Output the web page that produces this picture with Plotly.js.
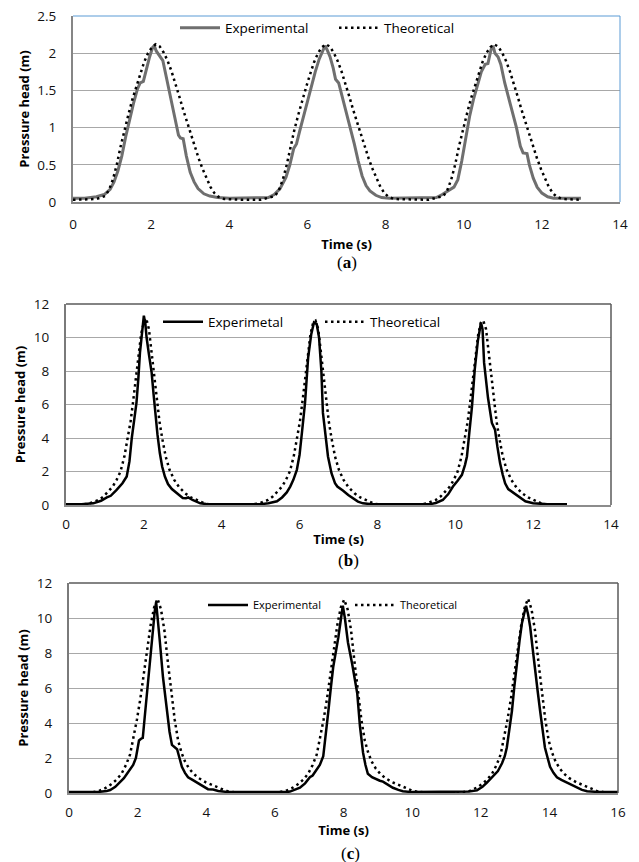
<!DOCTYPE html>
<html>
<head>
<meta charset="utf-8">
<script src="https://cdn.plot.ly/plotly-3.0.1.min.js"></script>
<style>html,body{margin:0;padding:0;background:#fff;}#chart{width:639px;height:862px;}</style>
</head>
<body>
<div id="chart"></div>
<script>
// ---------- DATA (time s, pressure head m) ----------
const seriesNamesA = ['Experimental', 'Theoretical'];
const seriesNamesB = ['Experimetal', 'Theoretical'];
const seriesNamesC = ['Experimental', 'Theoretical'];
const panelLabels = ['(<b>a</b>)', '(<b>b</b>)', '(<b>c</b>)'];

const expA = [[0,0.05],[0.3,0.05],[0.6,0.07],[0.8,0.1],[0.95,0.17],[1.05,0.27],[1.15,0.42],[1.25,0.62],[1.35,0.88],[1.45,1.12],[1.55,1.33],[1.65,1.52],[1.72,1.6],[1.8,1.62],[1.88,1.8],[1.96,1.95],[2.04,2.08],[2.08,2.1],[2.13,2.03],[2.2,1.97],[2.3,1.9],[2.4,1.65],[2.5,1.38],[2.6,1.15],[2.7,0.9],[2.75,0.86],[2.82,0.85],[2.9,0.62],[3.0,0.4],[3.1,0.27],[3.2,0.18],[3.35,0.11],[3.5,0.08],[3.7,0.06],[4.0,0.05],[4.4,0.05],[4.8,0.05],[5.0,0.06],[5.15,0.1],[5.3,0.18],[5.45,0.33],[5.55,0.5],[5.65,0.72],[5.72,0.78],[5.8,0.95],[5.9,1.15],[6.0,1.38],[6.1,1.55],[6.2,1.75],[6.3,1.92],[6.38,2.02],[6.45,2.1],[6.5,2.05],[6.58,1.95],[6.66,1.8],[6.72,1.65],[6.8,1.6],[6.9,1.4],[7.0,1.2],[7.1,1.0],[7.2,0.78],[7.3,0.55],[7.4,0.35],[7.5,0.22],[7.6,0.15],[7.75,0.09],[7.9,0.06],[8.1,0.05],[8.5,0.05],[9.0,0.05],[9.3,0.06],[9.45,0.1],[9.6,0.15],[9.75,0.2],[9.85,0.3],[9.95,0.55],[10.05,0.85],[10.15,1.15],[10.25,1.38],[10.35,1.55],[10.45,1.75],[10.55,1.85],[10.62,1.86],[10.7,2.05],[10.75,2.1],[10.8,2.0],[10.88,1.95],[10.95,1.85],[11.05,1.6],[11.15,1.4],[11.25,1.2],[11.35,1.0],[11.45,0.75],[11.52,0.66],[11.62,0.65],[11.68,0.5],[11.78,0.32],[11.88,0.2],[12.0,0.12],[12.15,0.07],[12.3,0.05],[12.5,0.05],[12.8,0.05],[13.0,0.05]];

const theoA = [[0,0.03],[0.3,0.03],[0.6,0.04],[0.82,0.08],[0.92,0.16],[1.02,0.3],[1.12,0.5],[1.22,0.75],[1.32,0.98],[1.42,1.18],[1.52,1.38],[1.62,1.55],[1.72,1.72],[1.82,1.88],[1.92,2.0],[2.02,2.08],[2.12,2.12],[2.22,2.09],[2.32,2.01],[2.42,1.9],[2.52,1.76],[2.62,1.6],[2.72,1.42],[2.82,1.24],[2.92,1.07],[3.02,0.9],[3.12,0.74],[3.22,0.58],[3.32,0.44],[3.42,0.31],[3.52,0.2],[3.62,0.12],[3.72,0.07],[3.87,0.04],[4.3,0.03],[4.8,0.03],
[5.17,0.08],[5.27,0.16],[5.37,0.3],[5.47,0.5],[5.57,0.75],[5.67,0.98],[5.77,1.18],[5.87,1.38],[5.97,1.55],[6.07,1.72],[6.17,1.88],[6.27,2.0],[6.37,2.08],[6.47,2.12],[6.57,2.09],[6.67,2.01],[6.77,1.9],[6.87,1.76],[6.97,1.6],[7.07,1.42],[7.17,1.24],[7.27,1.07],[7.37,0.9],[7.47,0.74],[7.57,0.58],[7.67,0.44],[7.77,0.31],[7.87,0.2],[7.97,0.12],[8.07,0.07],[8.22,0.04],[8.7,0.03],[9.1,0.03],
[9.48,0.08],[9.58,0.16],[9.68,0.3],[9.78,0.5],[9.88,0.75],[9.98,0.98],[10.08,1.18],[10.18,1.38],[10.28,1.55],[10.38,1.72],[10.48,1.88],[10.58,2.0],[10.68,2.08],[10.78,2.12],[10.88,2.09],[10.98,2.01],[11.08,1.9],[11.18,1.76],[11.28,1.6],[11.38,1.42],[11.48,1.24],[11.58,1.07],[11.68,0.9],[11.78,0.74],[11.88,0.58],[11.98,0.44],[12.08,0.31],[12.18,0.2],[12.28,0.12],[12.38,0.07],[12.53,0.04],[13.0,0.03]];

const expB = [[0,0.05],[0.4,0.05],[0.7,0.1],[0.9,0.25],[1.05,0.45],[1.15,0.55],[1.3,0.9],[1.45,1.3],[1.56,1.7],[1.63,2.6],[1.69,4.0],[1.75,5.0],[1.81,6.1],[1.86,7.6],[1.9,9.1],[1.95,10.2],[2.0,11.3],[2.04,10.8],[2.07,10.0],[2.13,9.0],[2.2,7.9],[2.25,6.6],[2.29,5.5],[2.35,4.2],[2.41,3.1],[2.47,2.3],[2.54,1.7],[2.62,1.25],[2.72,0.95],[2.85,0.7],[3.0,0.42],[3.08,0.4],[3.14,0.45],[3.25,0.3],[3.35,0.18],[3.45,0.1],[3.6,0.06],[4.0,0.05],[4.5,0.05],[5.0,0.05],[5.2,0.1],[5.3,0.15],[5.42,0.22],[5.55,0.45],[5.67,0.75],[5.76,1.1],[5.84,1.5],[5.93,2.1],[6.0,3.0],[6.06,4.3],[6.14,6.1],[6.22,8.8],[6.3,10.2],[6.37,10.9],[6.44,10.8],[6.5,10.0],[6.56,8.0],[6.6,5.5],[6.66,4.2],[6.73,2.9],[6.82,1.9],[6.91,1.3],[6.97,1.1],[7.04,1.0],[7.12,0.85],[7.25,0.6],[7.37,0.4],[7.5,0.2],[7.63,0.1],[7.8,0.06],[8.2,0.05],[9.0,0.05],[9.35,0.05],[9.5,0.12],[9.68,0.3],[9.82,0.65],[9.94,1.1],[10.06,1.45],[10.17,1.8],[10.25,2.4],[10.3,2.9],[10.36,4.3],[10.43,5.9],[10.5,8.1],[10.58,9.8],[10.66,10.9],[10.7,10.5],[10.74,8.5],[10.84,6.4],[10.94,4.9],[11.02,4.5],[11.08,3.5],[11.15,2.5],[11.22,1.8],[11.28,1.3],[11.36,0.95],[11.45,0.8],[11.55,0.6],[11.66,0.4],[11.8,0.22],[12.0,0.1],[12.3,0.06],[12.87,0.05]];

const theoB = [[0,0.03],[0.46,0.04],[0.61,0.1],[0.71,0.18],[0.84,0.3],[0.96,0.5],[1.08,0.8],[1.2,1.1],[1.3,1.5],[1.4,2.0],[1.5,2.9],[1.59,4.0],[1.66,5.0],[1.72,6.1],[1.79,7.6],[1.86,9.1],[1.93,10.2],[2.0,10.9],[2.06,11.15],[2.13,10.5],[2.2,9.1],[2.27,7.5],[2.34,6.1],[2.4,5.0],[2.47,4.0],[2.56,2.9],[2.66,2.1],[2.78,1.5],[2.91,1.05],[3.06,0.7],[3.21,0.45],[3.36,0.28],[3.48,0.15],[3.58,0.07],[3.71,0.04],[4.3,0.03],
[4.81,0.04],[4.96,0.1],[5.06,0.18],[5.19,0.3],[5.31,0.5],[5.43,0.8],[5.55,1.1],[5.65,1.5],[5.75,2.0],[5.85,2.9],[5.94,4.0],[6.01,5.0],[6.07,6.1],[6.14,7.6],[6.21,9.1],[6.28,10.2],[6.35,10.9],[6.41,11.0],[6.48,10.5],[6.55,9.1],[6.62,7.5],[6.69,6.1],[6.75,5.0],[6.82,4.0],[6.91,2.9],[7.01,2.1],[7.13,1.5],[7.26,1.05],[7.41,0.7],[7.56,0.45],[7.71,0.28],[7.83,0.15],[7.93,0.07],[8.06,0.04],[8.7,0.03],
[9.12,0.04],[9.27,0.1],[9.37,0.18],[9.5,0.3],[9.62,0.5],[9.74,0.8],[9.86,1.1],[9.96,1.5],[10.06,2.0],[10.16,2.9],[10.25,4.0],[10.32,5.0],[10.38,6.1],[10.45,7.6],[10.52,9.1],[10.59,10.2],[10.66,10.9],[10.72,11.0],[10.79,10.5],[10.86,9.1],[10.93,7.5],[11.0,6.1],[11.06,5.0],[11.13,4.0],[11.22,2.9],[11.32,2.1],[11.44,1.5],[11.57,1.05],[11.72,0.7],[11.87,0.45],[12.02,0.28],[12.14,0.15],[12.24,0.07],[12.37,0.04]];

const expC = [[0,0.05],[0.5,0.05],[0.9,0.07],[1.1,0.12],[1.2,0.17],[1.35,0.35],[1.49,0.6],[1.6,0.85],[1.69,1.1],[1.78,1.35],[1.87,1.6],[1.95,2.0],[1.99,2.4],[2.04,3.0],[2.1,3.1],[2.15,3.15],[2.2,4.2],[2.27,5.7],[2.36,7.6],[2.45,9.5],[2.5,10.4],[2.54,10.9],[2.58,10.2],[2.65,8.6],[2.74,6.6],[2.86,4.7],[2.93,3.5],[3.0,2.75],[3.08,2.6],[3.15,2.5],[3.22,2.0],[3.29,1.5],[3.38,1.15],[3.47,0.9],[3.6,0.75],[3.72,0.6],[3.82,0.48],[3.91,0.35],[4.05,0.22],[4.2,0.2],[4.35,0.12],[4.6,0.06],[5.0,0.05],[6.0,0.05],[6.3,0.05],[6.44,0.08],[6.6,0.18],[6.73,0.3],[6.88,0.55],[7.02,0.9],[7.1,1.0],[7.2,1.3],[7.31,1.6],[7.41,2.1],[7.48,3.2],[7.56,4.7],[7.63,6.0],[7.7,7.2],[7.85,8.9],[7.92,10.0],[7.98,10.7],[8.04,10.0],[8.13,8.6],[8.25,7.4],[8.4,5.7],[8.48,3.8],[8.57,2.3],[8.64,1.6],[8.71,1.1],[8.83,0.9],[8.97,0.75],[9.06,0.7],[9.15,0.65],[9.3,0.45],[9.44,0.3],[9.6,0.18],[9.73,0.1],[10.0,0.05],[11.0,0.05],[11.4,0.05],[11.65,0.08],[11.89,0.15],[12.05,0.35],[12.18,0.6],[12.3,0.85],[12.42,1.1],[12.5,1.25],[12.62,1.7],[12.7,2.1],[12.76,2.6],[12.84,3.6],[12.91,4.7],[12.98,6.1],[13.06,7.6],[13.13,8.7],[13.2,9.7],[13.32,10.7],[13.38,10.2],[13.44,9.5],[13.51,8.3],[13.58,7.0],[13.66,5.8],[13.73,4.7],[13.8,3.6],[13.87,2.6],[13.95,2.0],[14.02,1.5],[14.12,1.15],[14.22,0.9],[14.35,0.75],[14.51,0.6],[14.65,0.45],[14.81,0.3],[14.95,0.18],[15.1,0.1],[15.4,0.06],[16.0,0.05]];

const theoC = [[0,0.03],[0.4,0.03],[0.68,0.04],[0.88,0.12],[1.08,0.3],[1.23,0.5],[1.38,0.75],[1.53,1.1],[1.66,1.6],[1.78,2.2],[1.88,3.1],[1.98,4.2],[2.08,5.4],[2.18,6.9],[2.28,8.3],[2.38,9.6],[2.48,10.6],[2.58,11.1],[2.68,10.5],[2.78,9.3],[2.88,7.5],[2.98,5.7],[3.08,4.2],[3.18,3.0],[3.28,2.3],[3.38,1.8],[3.5,1.4],[3.63,1.1],[3.78,0.85],[3.98,0.62],[4.18,0.45],[4.38,0.28],[4.58,0.12],[4.78,0.05],[5.5,0.03],
[6.12,0.04],[6.32,0.12],[6.52,0.3],[6.67,0.5],[6.82,0.75],[6.97,1.1],[7.1,1.6],[7.22,2.2],[7.32,3.1],[7.42,4.2],[7.52,5.4],[7.62,6.9],[7.72,8.3],[7.82,9.6],[7.92,10.6],[8.02,11.05],[8.12,10.5],[8.22,9.3],[8.32,7.5],[8.42,5.7],[8.52,4.2],[8.62,3.0],[8.72,2.3],[8.82,1.8],[8.94,1.4],[9.07,1.1],[9.22,0.85],[9.42,0.62],[9.62,0.45],[9.82,0.28],[10.02,0.12],[10.22,0.05],[11.0,0.03],
[11.48,0.04],[11.68,0.12],[11.88,0.3],[12.03,0.5],[12.18,0.75],[12.33,1.1],[12.46,1.6],[12.58,2.2],[12.68,3.1],[12.78,4.2],[12.88,5.4],[12.98,6.9],[13.08,8.3],[13.18,9.6],[13.28,10.6],[13.38,11.1],[13.48,10.5],[13.58,9.3],[13.68,7.5],[13.78,5.7],[13.88,4.2],[13.98,3.0],[14.08,2.3],[14.18,1.8],[14.3,1.4],[14.43,1.1],[14.58,0.85],[14.78,0.62],[14.98,0.45],[15.18,0.28],[15.38,0.12],[15.58,0.05],[16.0,0.03]];

const xTicksAB = [0, 2, 4, 6, 8, 10, 12, 14];
const xTicksC = [0, 2, 4, 6, 8, 10, 12, 14, 16];
const yTicksA = [0, 0.5, 1, 1.5, 2, 2.5];
const yTicksBC = [0, 2, 4, 6, 8, 10, 12];

// ---------- STYLE ----------
const FONT = 'Open Sans, Liberation Sans, sans-serif';
const W = 639, H = 862;
const px = v => v / W, py = v => 1 - v / H;
const dotDash = '2.5px,3.5px';

function tr(data, ax, name, legend, line) {
  return {x: data.map(p => p[0]), y: data.map(p => p[1]), xaxis: ax[0], yaxis: ax[1],
    type: 'scatter', mode: 'lines', name: name, legend: legend, line: line, hoverinfo: 'skip'};
}
const traces = [
  tr(expA, ['x', 'y'], seriesNamesA[0], 'legend', {color: '#6f6f6f', width: 3}),
  tr(theoA, ['x', 'y'], seriesNamesA[1], 'legend2', {color: '#000', width: 2.5, dash: dotDash}),
  tr(expB, ['x2', 'y2'], seriesNamesB[0], 'legend3', {color: '#000', width: 2.5}),
  tr(theoB, ['x2', 'y2'], seriesNamesB[1], 'legend4', {color: '#000', width: 2.5, dash: dotDash}),
  tr(expC, ['x3', 'y3'], seriesNamesC[0], 'legend5', {color: '#000', width: 2.5}),
  tr(theoC, ['x3', 'y3'], seriesNamesC[1], 'legend6', {color: '#000', width: 2.5, dash: dotDash})
];

const tickFont = {family: FONT, size: 13.5, color: '#111'};
const titleFont = {family: FONT, size: 13, color: '#000'};
function xax(dom, anchor, ticks, lineColor, tstand, standoff) {
  return {domain: dom, anchor: anchor, range: [ticks[0], ticks[ticks.length - 1]], tickvals: ticks,
    ticktext: ticks.map(String), showgrid: false, zeroline: false, showline: true, linecolor: lineColor,
    linewidth: 2, ticks: '', tickfont: tickFont, ticklabelstandoff: tstand,
    title: {text: '<b>Time (s)</b>', font: titleFont, standoff: standoff}};
}
function yax(dom, anchor, ticks, lineColor) {
  return {domain: dom, anchor: anchor, range: [ticks[0], ticks[ticks.length - 1]], tickvals: ticks,
    ticktext: ticks.map(String), showgrid: true, gridcolor: '#a8a8a8', gridwidth: 1, zeroline: false,
    showline: true, linecolor: lineColor, linewidth: 2, ticks: '', tickfont: tickFont, ticklabelstandoff: 12,
    title: {text: '<b>Pressure head (m)</b>', font: titleFont, standoff: 5}};
}
function leg(xpix, ypix, size) {
  return {x: px(xpix), y: py(ypix), xanchor: 'left', yanchor: 'middle', orientation: 'h',
    bgcolor: 'rgba(0,0,0,0)', borderwidth: 0, itemwidth: 40,
    font: {family: FONT, size: size, color: '#000'}};
}
function frame(xr, yr, color, w) {
  return [
    {type: 'line', xref: xr + ' domain', yref: yr + ' domain', x0: 0, x1: 1, y0: 1, y1: 1, line: {color: color, width: w}},
    {type: 'line', xref: xr + ' domain', yref: yr + ' domain', x0: 1, x1: 1, y0: 0, y1: 1, line: {color: color, width: w}}
  ];
}
function lab(text, xpix, ypix) {
  return {text: text, xref: 'paper', yref: 'paper', x: px(xpix), y: py(ypix), xanchor: 'center', yanchor: 'middle',
    showarrow: false, font: {family: 'Liberation Serif, Times New Roman, serif', size: 17, color: '#000'}};
}

const layout = {
  width: W, height: H, margin: {l: 0, r: 0, t: 0, b: 0}, paper_bgcolor: '#fff', plot_bgcolor: '#fff',
  font: {family: FONT},
  xaxis: xax([px(73), px(620)], 'y', xTicksAB, '#868686', 9, 8),
  yaxis: yax([py(202), py(16)], 'x', yTicksA, '#868686'),
  xaxis2: xax([px(66), px(611)], 'y2', xTicksAB, '#8c8c8c', 6, 3),
  yaxis2: yax([py(505), py(304)], 'x2', yTicksBC, '#7a7a7a'),
  xaxis3: xax([px(69), px(618)], 'y3', xTicksC, '#8c8c8c', 6, 6),
  yaxis3: yax([py(793), py(583)], 'x3', yTicksBC, '#7a7a7a'),
  legend: leg(175, 28, 13.5), legend2: leg(334, 28, 13.5),
  legend3: leg(158, 322, 13.5), legend4: leg(320, 322, 13.5),
  legend5: leg(203, 605, 11), legend6: leg(350, 605, 11),
  shapes: [].concat(frame('x', 'y', '#5b9bd5', 1), frame('x2', 'y2', '#5a5a5a', 1.5), frame('x3', 'y3', '#5a5a5a', 1.5)),
  annotations: [lab(panelLabels[0], 347, 262), lab(panelLabels[1], 348, 560), lab(panelLabels[2], 350, 853)],
  showlegend: true
};

Plotly.newPlot('chart', traces, layout, {staticPlot: true, displayModeBar: false});
</script>
</body>
</html>
